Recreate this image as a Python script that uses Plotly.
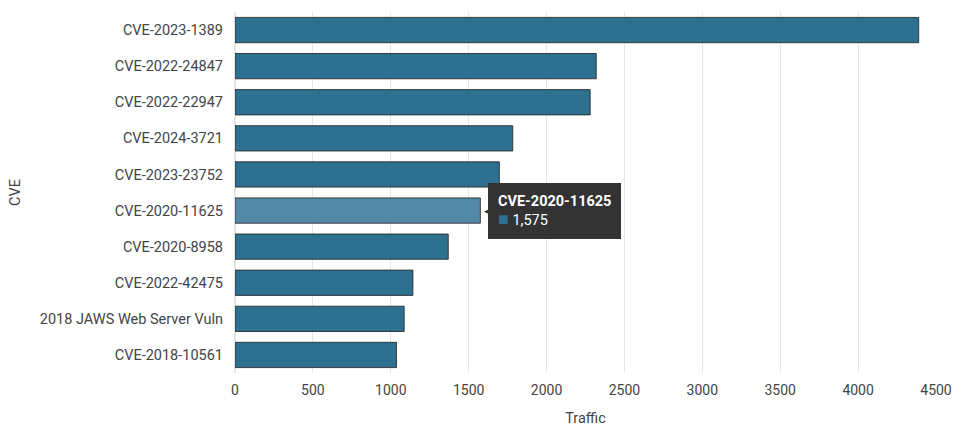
import plotly.graph_objects as go

categories = ["CVE-2023-1389", "CVE-2022-24847", "CVE-2022-22947", "CVE-2024-3721",
              "CVE-2023-23752", "CVE-2020-11625", "CVE-2020-8958", "CVE-2022-42475",
              "2018 JAWS Web Server Vuln", "CVE-2018-10561"]
traffic = [4389, 2319, 2280, 1783, 1697, 1575, 1369, 1142, 1086, 1037]
highlight = "CVE-2020-11625"

base_color = "#2d7090"
hover_color = "#5389a6"
colors = [hover_color if c == highlight else base_color for c in categories]

fig = go.Figure()
fig.add_trace(go.Bar(
    x=traffic, y=categories, orientation="h",
    marker=dict(color=colors, line=dict(color="rgba(40,40,40,0.85)", width=1)),
    hoverinfo="skip",
))

hi = categories.index(highlight)
fig.add_annotation(
    x=traffic[hi], y=categories[hi], xref="x", yref="y",
    xanchor="left", yanchor="middle", xshift=8, showarrow=False, align="left",
    text=("<b>" + highlight + "</b><br>"
          "<span style='color:" + base_color + ";font-size:18px'>■</span> " + f"{traffic[hi]:,}"),
    font=dict(family="Roboto", size=14.5, color="white"),
    bgcolor="#333333", bordercolor="#333333", borderpad=9,
)
fig.add_annotation(
    x=traffic[hi], y=categories[hi], xref="x", yref="y",
    xanchor="left", yanchor="middle", xshift=2, showarrow=False,
    text="◀", font=dict(size=9, color="#333333"),
)

fig.update_layout(
    width=956, height=437,
    margin=dict(l=235, r=20, t=12, b=64),
    paper_bgcolor="white", plot_bgcolor="white",
    font=dict(family="Roboto", size=14.5, color="#333333"),
    bargap=0.3,
    showlegend=False,
    xaxis=dict(range=[0, 4500], dtick=500, showgrid=True, gridcolor="#e6e6e6",
               zeroline=True, zerolinecolor="#e6e6e6", ticks="", showline=False,
               automargin=False, ticklabelstandoff=7, ticklabeloverflow="allow",
               title=dict(text="Traffic", font=dict(size=14.5, color="#444")),
               tickfont=dict(family="Roboto", size=14, color="#444")),
    yaxis=dict(categoryorder="array", categoryarray=categories[::-1],
               showgrid=False, ticks="", automargin=False, ticklabelstandoff=11,
               title=dict(text="CVE", font=dict(size=14.5, color="#444")),
               tickfont=dict(size=14.5, color="#444")),
)

# remove the default page margin so the figure fills the window exactly
fig.write_html("out.html",
               config={"displayModeBar": False},
               post_script="document.body.style.margin='0';document.body.style.overflow='hidden';")
